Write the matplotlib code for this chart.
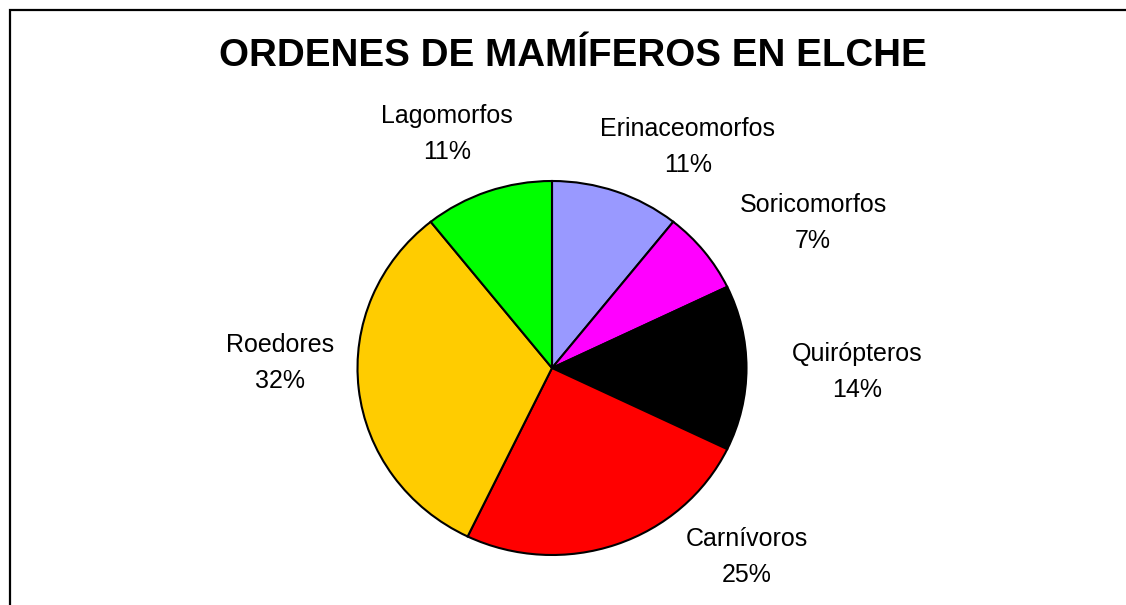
import matplotlib
matplotlib.use("Agg")
import matplotlib.pyplot as plt
from matplotlib.patches import Rectangle

plt.rcParams["font.family"] = ["Liberation Sans", "DejaVu Sans"]

# species counts per order (clockwise from 12 o'clock)
orders = ["Erinaceomorfos", "Soricomorfos", "Quirópteros", "Carnívoros", "Roedores", "Lagomorfos"]
counts = [3, 2, 4, 7, 9, 3]
colors = ["#9999FF", "#FF00FF", "#000000", "#FF0000", "#FFCC00", "#00FF00"]

W, H = 1126, 605
cx, cy = 552, 368      # pie centre, px
rx, ry = 194.5, 187    # pie radii, px

# label centres as pixel offsets from the pie centre (layout only)
label_off = [(136, -221), (261, -145), (305, 4), (195, 189), (-272, -5), (-105, -234)]

fig = plt.figure(figsize=(W / 100, H / 100), dpi=100)
ax = fig.add_axes([0, 0, 1, 1])
ax.pie(counts, colors=colors, startangle=90, counterclock=False,
       wedgeprops=dict(edgecolor="black", linewidth=1.5))
ax.set_aspect("auto")
ax.set_xlim(-cx / rx, (W - cx) / rx)
ax.set_ylim(-(H - cy) / ry, cy / ry)
ax.axis("off")

total = sum(counts)
for name, n, (dx, dy) in zip(orders, counts, label_off):
    ax.text(dx / rx, -dy / ry, f"{name}\n{round(100 * n / total)}%",
            ha="center", va="center", fontsize=18, linespacing=1.62)

fig.text(572.5 / W, 1 - 56 / H, "ORDENES DE MAMÍFEROS EN ELCHE",
         ha="center", va="center", fontsize=27.7, fontweight="bold")

# chart frame (runs off the right and bottom edges)
fig.patches.append(Rectangle((10 / W, -0.1), 1.2, 1.1 - 10 / H, transform=fig.transFigure,
                             fill=False, edgecolor="black", linewidth=1.6))

fig.savefig("out.png", dpi=100, facecolor="white")
